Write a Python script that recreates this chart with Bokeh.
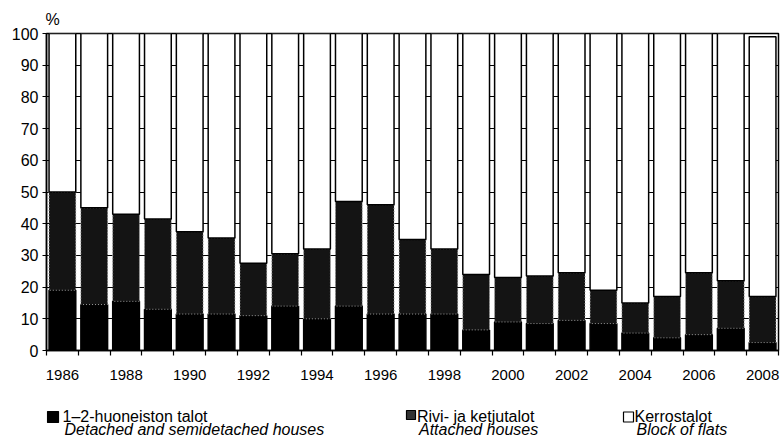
from bokeh.plotting import figure
from bokeh.layouts import column
from bokeh.models import FixedTicker, ColumnDataSource, Range1d
from bokeh.core.properties import value
from bokeh.transform import stack
from bokeh.embed import file_html
from bokeh.resources import INLINE

# ---- data (percent shares of dwellings) ----
years = list(range(1986, 2009))
detached = [19, 14.5, 15.5, 13, 11.5, 11.5, 11, 14, 10, 14, 11.5, 11.5,
            11.5, 6.5, 9, 8.5, 9.5, 8.5, 5.5, 4, 5, 7, 2.5]
attached = [31, 30.5, 27.5, 28.5, 26, 24, 16.5, 16.5, 22, 33, 34.5, 23.5,
            20.5, 17.5, 14, 15, 15, 10.5, 9.5, 13, 19.5, 15, 14.5]
flats = [50, 55, 57, 58.5, 62.5, 64.5, 72.5, 69.5, 68, 53, 54, 65,
         68, 76, 77, 76.5, 75.5, 81, 85, 83, 75.5, 78, 82]
y_ticks = list(range(0, 101, 10))
x_label_years = list(range(1986, 2009, 2))
legend_fi = ["1–2-huoneiston talot", "Rivi- ja ketjutalot", "Kerrostalot"]
legend_en = ["Detached and semidetached houses", "Attached houses", "Block of flats"]

FONT = "Liberation Sans"
W, H = 782, 448
FL, FT, FW, FH = 46, 33, 732, 317  # frame left/top/width/height (page px)
MAIN_H = 392                        # main figure height; legend strip below
FR = W - FL - FW

src = ColumnDataSource(dict(year=years, detached=detached, attached=attached, flats=flats))

p = figure(width=W, height=MAIN_H, frame_width=FW, frame_height=FH,
           x_range=(years[0] - 0.5, years[-1] + 0.5), y_range=(0, 100),
           output_backend="svg", toolbar_location=None,
           min_border_left=FL, min_border_right=FR,
           min_border_top=FT, min_border_bottom=MAIN_H - FT - FH)
p.background_fill_color = "white"
p.border_fill_color = "white"
p.outline_line_color = "black"
p.outline_line_width = 1.5
p.outline_line_alpha = 1

# "%" unit label as a left-aligned title
p.title.text = "%"
p.title.align = "left"
p.title.offset = -1
p.title.standoff = 12
p.title.text_font = FONT
p.title.text_font_size = "16px"
p.title.text_font_style = "normal"
p.title.text_color = "black"

bw = 0.84
p.vbar(x="year", width=bw, bottom=0, top="detached", source=src,
       fill_color="#000000", line_color="black", line_width=1.5)
p.vbar(x="year", width=bw, bottom=stack("detached"), top=stack("detached", "attached"),
       source=src, fill_color="#141414", line_color="#9a9a9a", line_width=1,
       line_dash="1 2")
p.vbar(x="year", width=bw, bottom=stack("detached", "attached"),
       top=stack("detached", "attached", "flats"), source=src,
       fill_color="white", line_color="black", line_width=1.5)

# grid
p.xgrid.visible = False
p.ygrid.ticker = FixedTicker(ticks=y_ticks)
p.ygrid.grid_line_color = "black"
p.ygrid.grid_line_width = 1
p.ygrid.grid_line_alpha = 1

# x axis
xa = p.xaxis[0]
xa.ticker = FixedTicker(ticks=x_label_years,
                        minor_ticks=[y - 0.5 for y in years] + [years[-1] + 0.5])
xa.major_tick_line_color = None
xa.major_tick_out = 0
xa.major_tick_in = 0
xa.minor_tick_line_color = "black"
xa.minor_tick_line_width = 1.2
xa.minor_tick_out = 5
xa.minor_tick_in = 0
xa.axis_line_color = "black"
xa.axis_line_width = 1.5
xa.major_label_text_font = FONT
xa.major_label_text_font_size = "15px"
xa.major_label_text_color = "black"
xa.major_label_standoff = 14

# y axis
ya = p.yaxis[0]
ya.ticker = FixedTicker(ticks=y_ticks)
ya.minor_tick_line_color = None
ya.major_tick_line_color = "black"
ya.major_tick_line_width = 1.2
ya.major_tick_out = 4
ya.major_tick_in = 0
ya.axis_line_color = "black"
ya.axis_line_width = 1.5
ya.major_label_text_font = FONT
ya.major_label_text_font_size = "16px"
ya.major_label_text_color = "black"
ya.major_label_standoff = 4

# ---- legend strip (its own figure; its frame spans the same columns as the
# main frame, and its data coordinates equal page pixels) ----
LH = H - MAIN_H
leg = figure(width=W, height=LH, frame_width=FW, frame_height=LH,
             x_range=Range1d(FL, FL + FW), y_range=Range1d(H, MAIN_H),
             output_backend="svg", toolbar_location=None,
             min_border_left=FL, min_border_right=FR, min_border_top=0,
             min_border_bottom=0)
leg.axis.visible = False
leg.grid.visible = False
leg.outline_line_color = None
leg.background_fill_color = "white"
leg.border_fill_color = "white"

sw_left = [47, 406, 623]
sw_top = [411, 410, 411.5]
sw_size = [11, 9, 10]
txt_x = [62, 416.5, 634]
fills = ["#000000", "#333333", "white"]
leg.quad(left=sw_left, right=[l + s for l, s in zip(sw_left, sw_size)],
         top=sw_top, bottom=[t + s for t, s in zip(sw_top, sw_size)],
         fill_color=fills, line_color="black", line_width=1.2)
leg.text(x=txt_x, y=[407] * 3, text=legend_fi, text_font=value(FONT),
         text_font_size="16px", text_color="black", text_baseline="top")
leg.text(x=[t + 2 for t in txt_x], y=[420] * 3, text=legend_en, text_font=value(FONT),
         text_font_size="16px", text_font_style="italic", text_color="black",
         text_baseline="top")

layout = column(p, leg, spacing=0)
open("out.html", "w").write(file_html(layout, INLINE))
